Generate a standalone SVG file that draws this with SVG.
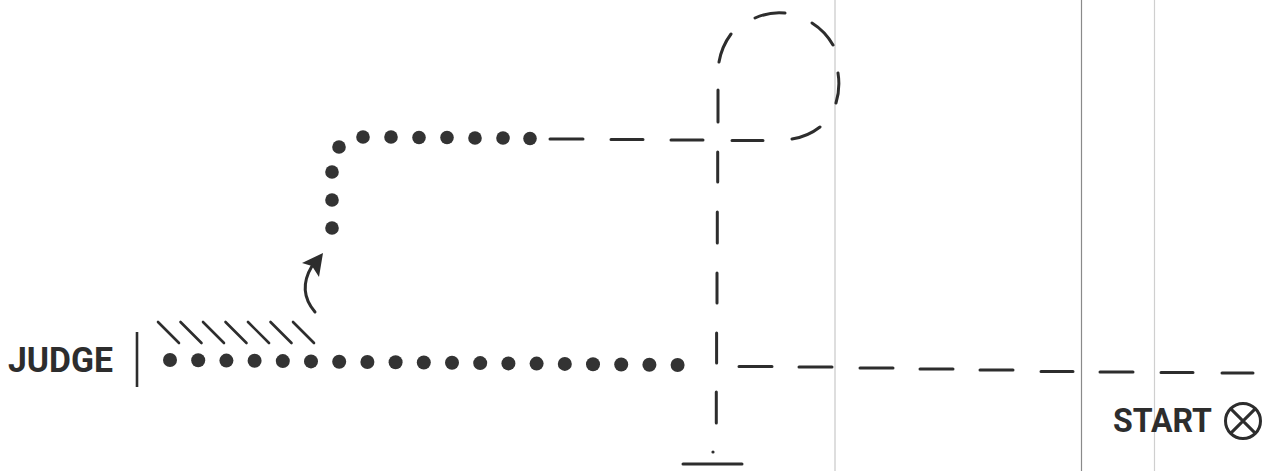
<svg xmlns="http://www.w3.org/2000/svg" width="1271" height="471" viewBox="0 0 1271 471">
<style>
.dot{fill:#333}
.dash{fill:none;stroke:#2d2d2d;stroke-width:3;stroke-linecap:round}
.hatch{stroke:#2d2d2d;stroke-width:2.6;stroke-linecap:round}
.lbl{font-family:Roboto,"Liberation Sans",sans-serif;font-weight:bold;fill:#2d2d2d}
.edge{stroke-width:1.2}
</style>
<rect width="1271" height="471" fill="#ffffff"/>
<g id="page-edges">
<line class="edge" x1="835" y1="0" x2="835" y2="471" stroke="#c8c8c8"/>
<line class="edge" x1="1081.5" y1="0" x2="1081.5" y2="471" stroke="#8a8a8a"/>
<line class="edge" x1="1154.5" y1="0" x2="1154.5" y2="471" stroke="#cfcfcf"/>
</g>
<g id="judge">
<text class="lbl" x="8" y="372" font-size="35" textLength="105" lengthAdjust="spacingAndGlyphs">JUDGE</text>
<line x1="137" y1="332" x2="137" y2="387" stroke="#2d2d2d" stroke-width="2.6"/>
<g id="hatching">
<line class="hatch" x1="158" y1="322" x2="179" y2="343"/>
<line class="hatch" x1="180.5" y1="322" x2="201.5" y2="343"/>
<line class="hatch" x1="203" y1="322" x2="224" y2="343"/>
<line class="hatch" x1="225.5" y1="322" x2="246.5" y2="343"/>
<line class="hatch" x1="248" y1="322" x2="269" y2="343"/>
<line class="hatch" x1="270.5" y1="322" x2="291.5" y2="343"/>
<line class="hatch" x1="293" y1="322" x2="314" y2="343"/>
</g>
</g>
<g id="start">
<text class="lbl" x="1113" y="432" font-size="34" textLength="99" lengthAdjust="spacingAndGlyphs">START</text>
<circle cx="1243" cy="421" r="17.5" fill="none" stroke="#2d2d2d" stroke-width="3"/>
<path d="M1230.6,408.6 L1255.4,433.4 M1255.4,408.6 L1230.6,433.4" stroke="#2d2d2d" stroke-width="3"/>
</g>
<g id="connectors">
<g id="bottom-dots">
<circle class="dot" cx="170" cy="360" r="7"/>
<circle class="dot" cx="198.2" cy="360.3" r="7"/>
<circle class="dot" cx="226.4" cy="360.6" r="7"/>
<circle class="dot" cx="254.6" cy="360.8" r="7"/>
<circle class="dot" cx="282.8" cy="361.1" r="7"/>
<circle class="dot" cx="311" cy="361.4" r="7"/>
<circle class="dot" cx="339.2" cy="361.7" r="7"/>
<circle class="dot" cx="367.4" cy="362" r="7"/>
<circle class="dot" cx="395.6" cy="362.2" r="7"/>
<circle class="dot" cx="423.8" cy="362.5" r="7"/>
<circle class="dot" cx="452" cy="362.8" r="7"/>
<circle class="dot" cx="480.2" cy="363.1" r="7"/>
<circle class="dot" cx="508.4" cy="363.4" r="7"/>
<circle class="dot" cx="536.6" cy="363.6" r="7"/>
<circle class="dot" cx="564.8" cy="363.9" r="7"/>
<circle class="dot" cx="593" cy="364.2" r="7"/>
<circle class="dot" cx="621.2" cy="364.5" r="7"/>
<circle class="dot" cx="649.4" cy="364.8" r="7"/>
<circle class="dot" cx="677.6" cy="365" r="7"/>
</g>
<g id="upper-dots">
<circle class="dot" cx="332" cy="228" r="6.8"/>
<circle class="dot" cx="332" cy="200" r="6.8"/>
<circle class="dot" cx="332" cy="172" r="6.8"/>
<circle class="dot" cx="339" cy="147" r="6.8"/>
<circle class="dot" cx="363" cy="137" r="6.8"/>
<circle class="dot" cx="391" cy="137" r="6.8"/>
<circle class="dot" cx="419" cy="137.5" r="6.8"/>
<circle class="dot" cx="447" cy="137.5" r="6.8"/>
<circle class="dot" cx="475" cy="138" r="6.8"/>
<circle class="dot" cx="503" cy="138" r="6.8"/>
<circle class="dot" cx="530" cy="138.5" r="6.8"/>
</g>
<g id="turn-arrow">
<path d="M315,312 Q297,291 312,266" fill="none" stroke="#2d2d2d" stroke-width="3" stroke-linecap="round"/>
<polygon points="323,253 302,263 312,266 319,277" fill="#2d2d2d"/>
</g>
<path id="top-dashes" class="dash" d="M550,139 H583 M611,139.5 H643 M671,140 H703 M732,140.5 H763"/>
<path id="loop" class="dash" d="M719,62 A61,64 0 0 1 731,34 M755,18 A61,64 0 0 1 785,13 M812,23 A61,64 0 0 1 833,45 M838,73 A61,64 0 0 1 836,103 M820,127 A61,64 0 0 1 792,139"/>
<path id="vertical-dashes" class="dash" d="M718,90 V122 M717.7,152 V182 M717.3,212 V243 M717,273 V303 M716.6,333 V363 M716.3,392 V423"/>
<path id="bottom-dashes" class="dash" d="M739,366.5 H772 M799,367 H832 M860,368 H893 M920,369 H953 M980,370 H1013 M1041,371.5 H1073 M1100,372 H1133 M1161,372.5 H1193 M1222,373 H1253"/>
<g id="finish">
<circle cx="713" cy="452" r="1.6" fill="#2d2d2d"/>
<line x1="683" y1="464" x2="742" y2="464" stroke="#2d2d2d" stroke-width="3" stroke-linecap="round"/>
</g>
</g>
</svg>
